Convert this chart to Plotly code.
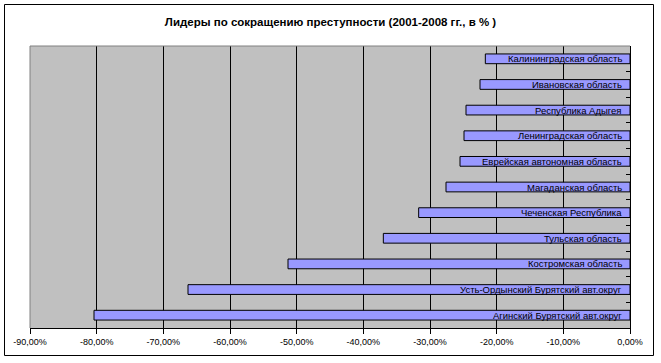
import plotly.graph_objects as go

regions = [
    "Калининградская область",
    "Ивановская область",
    "Республика Адыгея",
    "Ленинградская область",
    "Еврейская автономная область",
    "Магаданская область",
    "Чеченская Республика",
    "Тульская область",
    "Костромская область",
    "Усть-Ордынский Бурятский авт.округ",
    "Агинский Бурятский авт.округ",
]
change_pct = [-21.7, -22.5, -24.6, -24.9, -25.5, -27.6, -31.7, -37.0, -51.3, -66.3, -80.4]

tick_vals = [-90, -80, -70, -60, -50, -40, -30, -20, -10, 0]
tick_text = ["-90,00%", "-80,00%", "-70,00%", "-60,00%", "-50,00%",
             "-40,00%", "-30,00%", "-20,00%", "-10,00%", "0,00%"]

title_text = "Лидеры по сокращению преступности (2001-2008 гг., в % )"

FONT = "Liberation Sans, Arial, sans-serif"

fig = go.Figure()
fig.add_trace(go.Bar(
    x=change_pct, y=regions, orientation="h",
    marker=dict(color="#9999FF", line=dict(color="black", width=1)),
    hoverinfo="x+y",
))

annotations = []
for r in regions:
    annotations.append(dict(
        x=0, y=r, xref="x", yref="y", text=r, showarrow=False,
        xanchor="right", yanchor="middle", xshift=-6,
        font=dict(family=FONT, size=9.5, color="black"),
    ))

L, R, T, B = 30, 31, 46, 35
W, H = 661, 363
pw, ph = W - L - R, H - T - B
shapes = [
    # chart outer frame
    dict(type="rect", xref="paper", yref="paper",
         x0=(4.5 - L) / pw, x1=(653.5 - L) / pw,
         y0=(H - B - 355.5) / ph, y1=(H - B - 4.5) / ph,
         line=dict(color="black", width=1), fillcolor="rgba(0,0,0,0)", layer="below"),
    # plot area left and top borders (gray)
    dict(type="line", xref="paper", yref="paper", x0=0, x1=0, y0=0, y1=1,
         line=dict(color="#808080", width=1), layer="above"),
    dict(type="line", xref="paper", yref="paper", x0=0, x1=1, y0=1, y1=1,
         line=dict(color="#808080", width=1), layer="above"),
]

fig.update_layout(
    width=W, height=H,
    margin=dict(l=L, r=R, t=T, b=B),
    paper_bgcolor="white",
    plot_bgcolor="#C0C0C0",
    showlegend=False,
    bargap=0.62,
    title=dict(text="<b>" + title_text + "</b>", x=0.5, xref="container",
               xanchor="center", y=1 - 22 / H, yanchor="middle",
               font=dict(family=FONT, size=11.5, color="black")),
    xaxis=dict(
        range=[-90, 0], tickvals=tick_vals, ticktext=tick_text,
        showgrid=True, gridcolor="black", gridwidth=1, zeroline=False,
        showline=True, linecolor="black", linewidth=1,
        ticks="outside", ticklen=5, tickcolor="black",
        tickfont=dict(family=FONT, size=9, color="black"),
        fixedrange=True,
    ),
    yaxis=dict(
        autorange="reversed", side="right", showticklabels=False,
        showline=True, linecolor="black", linewidth=1,
        ticks="inside", ticklen=4, tickcolor="black", tickson="boundaries",
        showgrid=False, zeroline=False, fixedrange=True,
    ),
    annotations=annotations,
    shapes=shapes,
)

fig.write_html(
    "out.html",
    config={"displayModeBar": False},
    post_script="document.body.style.margin='0';document.body.style.overflow='hidden';",
)
